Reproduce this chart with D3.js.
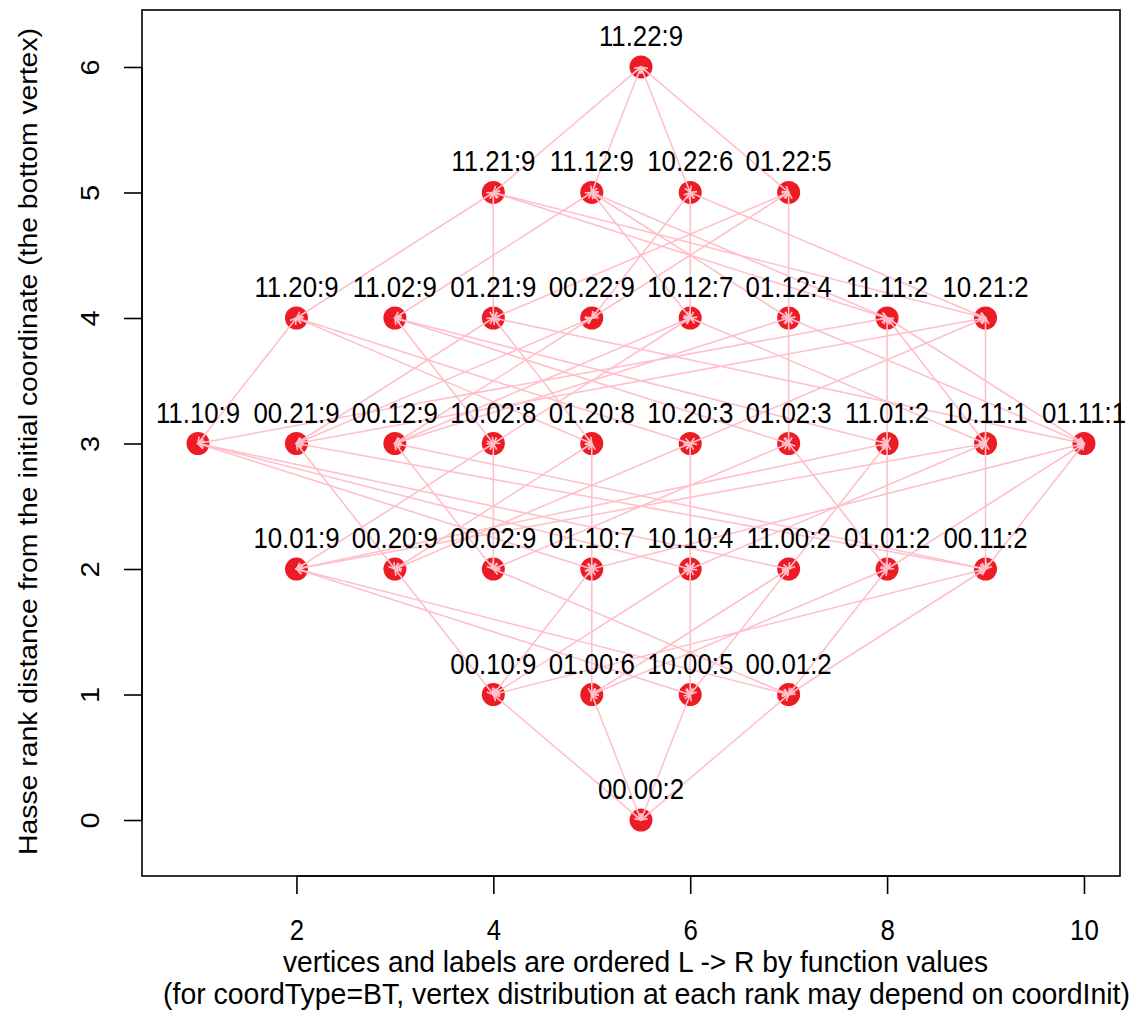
<!DOCTYPE html>
<html><head><meta charset="utf-8">
<script src="https://cdn.jsdelivr.net/npm/d3@7"></script>
<style>body{margin:0;background:#fff}svg{display:block}text{font-family:"Liberation Sans",Arial,Helvetica,sans-serif;fill:#000}</style>
</head><body><svg id="c" width="1136" height="1012"></svg>
<script>
// vertex labels at each Hasse rank, ordered left -> right
const rank0 = ["00.00:2"];
const rank1 = ["00.10:9","01.00:6","10.00:5","00.01:2"];
const rank2 = ["10.01:9","00.20:9","00.02:9","01.10:7","10.10:4","11.00:2","01.01:2","00.11:2"];
const rank3 = ["11.10:9","00.21:9","00.12:9","10.02:8","01.20:8","10.20:3","01.02:3","11.01:2","10.11:1","01.11:1"];
const rank4 = ["11.20:9","11.02:9","01.21:9","00.22:9","10.12:7","01.12:4","11.11:2","10.21:2"];
const rank5 = ["11.21:9","11.12:9","10.22:6","01.22:5"];
const rank6 = ["11.22:9"];
// horizontal coordinate of vertices at each rank
const xs0 = [5.5];
const xs1 = [4,5,6,7];
const xs2 = [2,3,4,5,6,7,8,9];
const xs3 = [1,2,3,4,5,6,7,8,9,10];
const xs4 = [2,3,4,5,6,7,8,9];
const xs5 = [4,5,6,7];
const xs6 = [5.5];
const xTicks = [2,4,6,8,10];
const yTicks = [0,1,2,3,4,5,6];
const xLabel1 = "vertices and labels are ordered L -> R by function values";
const xLabel2 = "(for coordType=BT, vertex distribution at each rank may depend on coordInit)";
const yLabel = "Hasse rank distance from the initial coordinate (the bottom vertex)";

const ranks = [rank0,rank1,rank2,rank3,rank4,rank5,rank6];
const xss = [xs0,xs1,xs2,xs3,xs4,xs5,xs6];
const nodes = [];
ranks.forEach((r,ri)=>r.forEach((lab,i)=>{
  const code = lab.split(":")[0].replace(".","").split("").map(Number);
  nodes.push({label:lab, rank:ri, x:xss[ri][i], code});
}));
// cover relations: ranks differ by one, codes differ by one in exactly one place
const edges = [];
nodes.forEach(a=>nodes.forEach(b=>{
  if (b.rank!==a.rank+1) return;
  let diff=0, ok=true;
  a.code.forEach((v,k)=>{const d=b.code[k]-v; if(d===1)diff++; else if(d!==0) ok=false;});
  if (ok && diff===1) edges.push([a,b]);
}));

const L=142,R=1120,T=10,B=876;
const x = d3.scaleLinear().domain([0.431,10.366]).range([L,R]);
const y = d3.scaleLinear().domain([-0.446,6.454]).range([B,T]);
const svg = d3.select("#c");
const FS = 29, SX = 0.89;

// box
svg.append("rect").attr("x",L).attr("y",T).attr("width",R-L).attr("height",B-T)
  .attr("fill","none").attr("stroke","#000").attr("stroke-width",1.6);

// x axis
const xa = svg.append("g").attr("transform",`translate(0,${B})`)
  .call(d3.axisBottom(x).tickValues(xTicks).tickSize(18).tickFormat(d3.format("d")));
xa.select(".domain").attr("stroke-width",1.6).attr("d",`M${x(2)},0H${x(10)}`);
xa.selectAll(".tick line").attr("stroke-width",1.6);
xa.selectAll(".tick text").attr("font-size",FS).attr("font-family",null).attr("fill","#000")
  .attr("dy",null).attr("y",null).attr("transform",`translate(0,64) scale(${SX},1)`);

// y axis
const ya = svg.append("g").attr("transform",`translate(${L},0)`)
  .call(d3.axisLeft(y).tickValues(yTicks).tickSize(18).tickFormat(d3.format("d")));
ya.select(".domain").attr("stroke-width",1.6).attr("d",`M0,${y(0)}V${y(6)}`);
ya.selectAll(".tick line").attr("stroke-width",1.6);
ya.selectAll(".tick text").attr("font-size",FS).attr("font-family",null).attr("fill","#000")
  .attr("x",null).attr("dy",null).attr("text-anchor","middle")
  .attr("transform",`translate(-43,0) scale(${SX},1) rotate(-90)`);

// axis titles
svg.append("text").attr("x",283).attr("y",972).attr("font-size",FS)
  .attr("textLength",705).attr("lengthAdjust","spacingAndGlyphs").text(xLabel1);
svg.append("text").attr("x",163).attr("y",1004).attr("font-size",FS)
  .attr("textLength",967).attr("lengthAdjust","spacingAndGlyphs").text(xLabel2);
svg.append("text").attr("transform",`translate(37,855) scale(${SX},1) rotate(-90)`).attr("font-size",FS)
  .attr("textLength",827).attr("lengthAdjust","spacingAndGlyphs").text(yLabel);

// points
svg.append("g").selectAll("circle").data(nodes).join("circle")
  .attr("cx",d=>x(d.x)).attr("cy",d=>y(d.rank)).attr("r",11.5).attr("fill","#ED1C24");

// edges with small arrowheads at both ends
const eg = svg.append("g").attr("stroke","#FFC0CB").attr("stroke-width",1.6).attr("fill","none");
const AL=7, AA=Math.PI/6;
function head(px,py,qx,qy){ // arrowhead at q, coming from p
  const ang=Math.atan2(qy-py,qx-px);
  const a1=ang+Math.PI-AA, a2=ang+Math.PI+AA;
  return `M${qx+AL*Math.cos(a1)},${qy+AL*Math.sin(a1)}L${qx},${qy}L${qx+AL*Math.cos(a2)},${qy+AL*Math.sin(a2)}`;
}
eg.selectAll("path").data(edges).join("path").attr("d",([a,b])=>{
  const ax=x(a.x), ay=y(a.rank), bx=x(b.x), by=y(b.rank);
  return `M${ax},${ay}L${bx},${by}`+head(ax,ay,bx,by)+head(bx,by,ax,ay);
});

// vertex labels
svg.append("g").selectAll("text").data(nodes).join("text")
  .attr("transform",d=>`translate(${x(d.x)},${y(d.rank)-21}) scale(${SX},1)`)
  .attr("text-anchor","middle")
  .attr("font-size",FS).text(d=>d.label);
</script></body></html>
